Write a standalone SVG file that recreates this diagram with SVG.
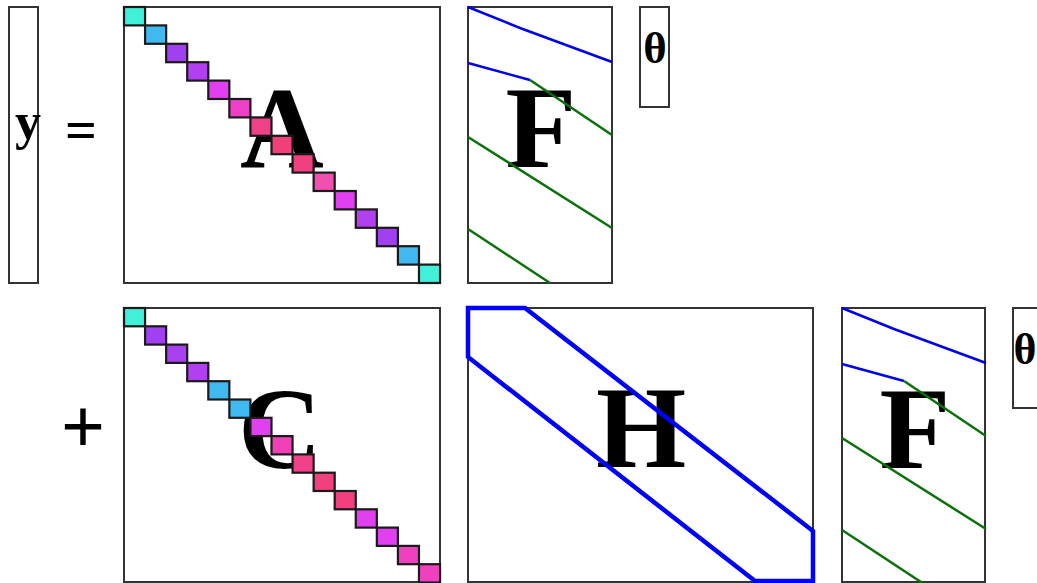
<svg xmlns="http://www.w3.org/2000/svg" width="1037" height="583" viewBox="0 0 1037 583">
<style>
.mat{fill:#fff;stroke:#333;stroke-width:2}
.sq{stroke:#1a1a1a;stroke-width:2.2}
.big{font-family:"Liberation Serif","Times New Roman",serif;font-weight:bold;font-size:116px;fill:#000;text-anchor:middle}
.sym{font-family:"Liberation Serif","Times New Roman",serif;font-weight:bold;fill:#000}
.blue{fill:none;stroke:#0000ee;stroke-width:2.5}
.green{fill:none;stroke:#0a700a;stroke-width:2.5}
.band{fill:none;stroke:#0000ff;stroke-width:4.5;stroke-linejoin:miter}
</style>
<defs>
<g id="flines">
<polyline class="blue" points="0,0 52,21 144,55"/>
<polyline class="blue" points="0,56 62,73"/>
<polyline class="green" points="62,73 144,128"/>
<line class="green" x1="0" y1="130" x2="144" y2="221"/>
<line class="green" x1="0" y1="222" x2="82" y2="276"/>
</g>
</defs>
<rect width="1037" height="583" fill="#fff"/>

<g id="y-vector">
<rect class="mat" x="9" y="7" width="29" height="276"/>
<text class="sym" x="15" y="139" font-size="52">y</text>
</g>
<g id="equals">
<text class="sym" x="81" y="149" font-size="56" text-anchor="middle">=</text>
</g>

<g id="matrix-A">
<rect class="mat" x="124" y="7" width="316" height="276"/>
<text class="big" x="282" y="167">A</text>
<g class="sq">
<rect x="124" y="7" width="21.07" height="18.4" fill="#40f0d8"/>
<rect x="145.07" y="25.4" width="21.07" height="18.4" fill="#40b8f0"/>
<rect x="166.14" y="43.8" width="21.07" height="18.4" fill="#a040f0"/>
<rect x="187.21" y="62.2" width="21.07" height="18.4" fill="#b040f0"/>
<rect x="208.28" y="80.6" width="21.07" height="18.4" fill="#e040f0"/>
<rect x="229.35" y="99" width="21.07" height="18.4" fill="#f040c8"/>
<rect x="250.42" y="117.4" width="21.07" height="18.4" fill="#f04088"/>
<rect x="271.49" y="135.8" width="21.07" height="18.4" fill="#f04078"/>
<rect x="292.56" y="154.2" width="21.07" height="18.4" fill="#f04080"/>
<rect x="313.63" y="172.6" width="21.07" height="18.4" fill="#f050b0"/>
<rect x="334.7" y="191" width="21.07" height="18.4" fill="#e040f0"/>
<rect x="355.77" y="209.4" width="21.07" height="18.4" fill="#b040f0"/>
<rect x="376.84" y="227.8" width="21.07" height="18.4" fill="#a040f0"/>
<rect x="397.91" y="246.2" width="21.07" height="18.4" fill="#40b8f0"/>
<rect x="418.98" y="264.6" width="21.07" height="18.4" fill="#40f0d8"/>
</g>
</g>

<g id="matrix-F-top">
<rect class="mat" x="468" y="7" width="144" height="276"/>
<text class="big" x="541" y="167">F</text>
<use href="#flines" x="468" y="7"/>
</g>

<g id="theta-top">
<rect class="mat" x="640" y="7" width="29" height="100"/>
<text class="sym" x="655" y="63" font-size="45" text-anchor="middle">θ</text>
</g>

<g id="plus">
<text class="sym" x="83" y="453" font-size="78" text-anchor="middle">+</text>
</g>

<g id="matrix-C">
<rect class="mat" x="124" y="308" width="316" height="274"/>
<text class="big" x="280" y="468">C</text>
<g class="sq">
<rect x="124" y="308" width="21.07" height="18.3" fill="#40f0d8"/>
<rect x="145.07" y="326.3" width="21.07" height="18.3" fill="#a040f0"/>
<rect x="166.14" y="344.6" width="21.07" height="18.3" fill="#a840f0"/>
<rect x="187.21" y="362.9" width="21.07" height="18.3" fill="#b040f0"/>
<rect x="208.28" y="381.2" width="21.07" height="18.3" fill="#40b8f0"/>
<rect x="229.35" y="399.5" width="21.07" height="18.3" fill="#40b8f0"/>
<rect x="250.42" y="417.8" width="21.07" height="18.3" fill="#e040f0"/>
<rect x="271.49" y="436.1" width="21.07" height="18.3" fill="#f040b8"/>
<rect x="292.56" y="454.4" width="21.07" height="18.3" fill="#f04088"/>
<rect x="313.63" y="472.7" width="21.07" height="18.3" fill="#f04080"/>
<rect x="334.7" y="491" width="21.07" height="18.3" fill="#f04080"/>
<rect x="355.77" y="509.3" width="21.07" height="18.3" fill="#e040f0"/>
<rect x="376.84" y="527.6" width="21.07" height="18.3" fill="#e040f0"/>
<rect x="397.91" y="545.9" width="21.07" height="18.3" fill="#f040c0"/>
<rect x="418.98" y="564.2" width="21.07" height="18.3" fill="#f040c0"/>
</g>
</g>

<g id="matrix-H">
<rect class="mat" x="468" y="308" width="345" height="274"/>
<text class="big" x="641" y="467">H</text>
<polygon class="band" points="468,308 525,308 813,531 813,581 755,581 468,357"/>
</g>

<g id="matrix-F-bottom">
<rect class="mat" x="842" y="308" width="143" height="274"/>
<text class="big" x="915" y="468">F</text>
<use href="#flines" x="842" y="308"/>
</g>

<g id="theta-bottom">
<rect class="mat" x="1013" y="308" width="30" height="100"/>
<text class="sym" x="1025" y="364" font-size="44" text-anchor="middle">θ</text>
</g>

<g id="connectors"></g>
</svg>
